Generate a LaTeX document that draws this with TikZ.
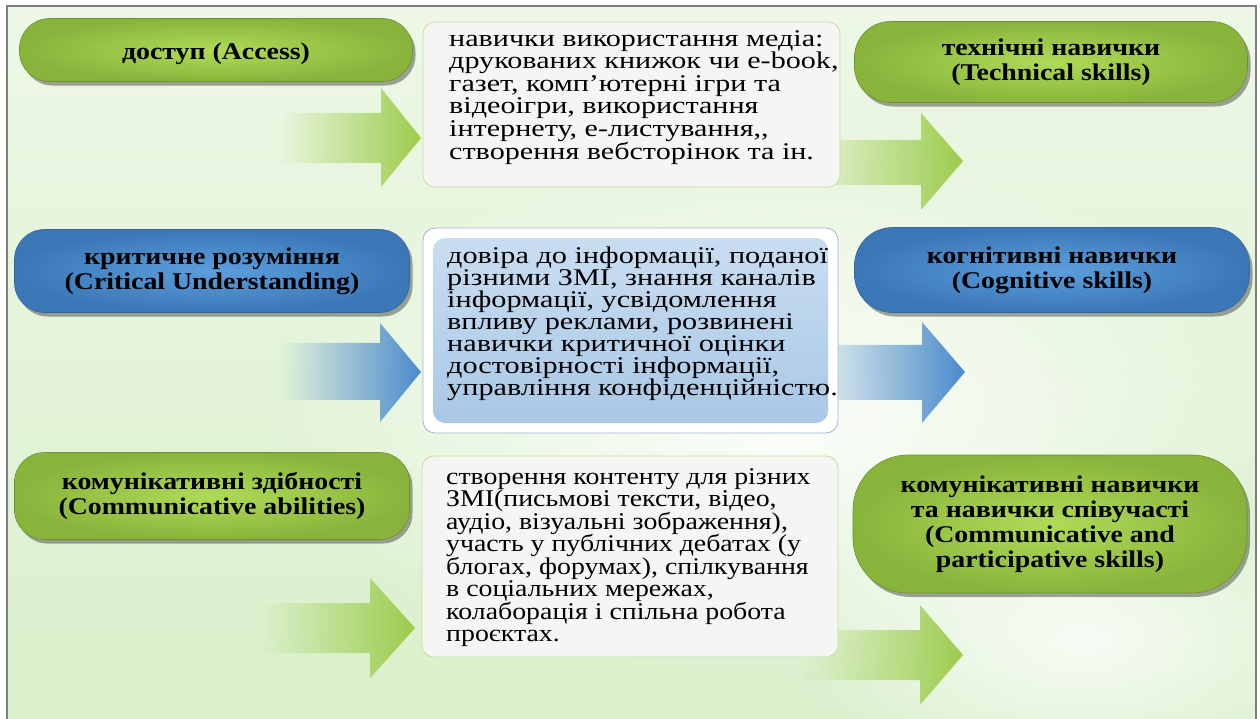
\documentclass[tikz,border=0pt]{standalone}
\usepackage{fontspec}
\setmainfont{Liberation Serif}
\newfontfamily\mediausefont[FakeStretch=1.255]{Liberation Serif}
\newfontfamily\trustfont[FakeStretch=1.26]{Liberation Serif}
\newfontfamily\contentfont[FakeStretch=1.16]{Liberation Serif}
\newfontfamily\pillfont[FakeStretch=1.16]{Liberation Serif}
\usetikzlibrary{positioning,shadows,fadings}

\definecolor{greenin}{HTML}{B0DB57}
\definecolor{greenout}{HTML}{88B43C}
\definecolor{bluein}{HTML}{5C9FDD}
\definecolor{blueout}{HTML}{3B77B7}
\definecolor{arrowgreen}{HTML}{9CCC4C}
\definecolor{arrowblue}{HTML}{4A8BCB}
\definecolor{boxfill}{HTML}{F5F6F4}
\definecolor{boxline}{HTML}{C5DE98}
\definecolor{boxblueline}{HTML}{9DB5CF}
\definecolor{boxbluetop}{HTML}{C9DDF1}
\definecolor{boxbluebot}{HTML}{A9C8E6}
\definecolor{bgtop}{HTML}{EEF7E6}
\definecolor{bgbot}{HTML}{D9F0CB}
\definecolor{framegray}{HTML}{7F7F7F}

\tikzfading[name=arrowfade, left color=transparent!100, right color=transparent!0]
\tikzfading[name=glowfade, inner color=transparent!0, outer color=transparent!100]

\tikzset{
  pill/.style={rounded corners=30pt, minimum width=393pt, inner sep=0pt, align=center,
    font=\pillfont\bfseries\fontsize{24}{25}\selectfont,
    drop shadow={shadow xshift=3pt, shadow yshift=-4pt, fill=black, opacity=0.35}},
  greenpill/.style={pill, inner color=greenin, outer color=greenout, draw=greenout!80!black, line width=0.6pt},
  bluepill/.style={pill, inner color=bluein, outer color=blueout, draw=blueout!85!black, line width=0.6pt},
  midbox/.style={rounded corners=12pt, fill=boxfill, draw=boxline, line width=0.8pt, inner sep=0pt},
  midtext/.style={anchor=north west, inner sep=0pt, align=left},
  greenarrow/.style={fill=arrowgreen, path fading=arrowfade},
  bluearrow/.style={fill=arrowblue, path fading=arrowfade}
}

\begin{document}
\begin{tikzpicture}[x=1pt, y=-1pt]
\useasboundingbox (0,0) rectangle (1260,718);
% background
\shade[top color=bgtop, bottom color=bgbot] (7,6) rectangle (1256,725);
\fill[white, path fading=glowfade, opacity=0.9] (780,420) ellipse (520 and 260);
\fill[white, path fading=glowfade, opacity=0.8] (1080,640) ellipse (300 and 160);

% arrows
\fill[greenarrow] (280,113) -- (381,113) -- (381,88) -- (421,138) -- (381,187) -- (381,163) -- (280,163) -- cycle; % arrow.1
\fill[greenarrow] (800,140) -- (921,140) -- (921,113) -- (963,161) -- (921,210) -- (921,185) -- (800,185) -- cycle; % arrow.2
\fill[bluearrow] (280,343) -- (380,343) -- (380,323) -- (421,372) -- (380,422) -- (380,400) -- (280,400) -- cycle; % arrow.3
\fill[bluearrow] (800,345) -- (922,345) -- (922,322) -- (965,372) -- (922,423) -- (922,400) -- (800,400) -- cycle; % arrow.4
\fill[greenarrow] (260,603) -- (370,603) -- (370,578) -- (415,628) -- (370,678) -- (370,653) -- (260,653) -- cycle; % arrow.5
\fill[greenarrow] (800,630) -- (920,630) -- (920,605) -- (963,655) -- (920,705) -- (920,680) -- (800,680) -- cycle; % arrow.6

% left column
\node[greenpill, minimum height=63pt, text height=24pt, text depth=5pt] (access) at (216,50) {доступ (Access)};
\node[bluepill, minimum width=395pt, minimum height=83pt] (critical) at (212,271) {критичне розуміння\\(Critical Understanding)};
\node[greenpill, minimum width=395pt, minimum height=87pt] (commab) at (212,496) {комунікативні здібності\\(Communicative abilities)};

% middle column
\node[midbox, minimum width=417pt, minimum height=165pt] (usebox) at (631.5,104.5) {};
\node[midtext, font=\mediausefont\fontsize{24}{22.6}\selectfont] (usetext) at (449,30) {навички використання медіа:\\друкованих книжок чи e-book,\\газет, комп’ютерні ігри та\\відеоігри, використання\\інтернету, е-листування,,\\створення вебсторінок та ін.};
\node[midbox, draw=boxblueline, fill=white, minimum width=415pt, minimum height=205pt] (trustbox) at (630.5,330.5) {};
\node[rounded corners=12pt, top color=boxbluetop, bottom color=boxbluebot, minimum width=395pt, minimum height=185pt, inner sep=0pt] (trustfill) at (630.5,330.5) {};
\node[midtext, font=\trustfont\fontsize{24}{22}\selectfont] (trusttext) at (447,247) {довіра до інформації, поданої\\різними ЗМІ, знання каналів\\інформації, усвідомлення\\впливу реклами, розвинені\\навички критичної оцінки\\достовірності інформації,\\управління конфіденційністю.};
\node[midbox, minimum width=416pt, minimum height=201pt] (mediabox) at (630,556.5) {};
\node[midtext, font=\contentfont\fontsize{24}{22.5}\selectfont] (mediatext) at (446,468) {створення контенту для різних\\ЗМІ(письмові тексти, відео,\\аудіо, візуальні зображення),\\участь у публічних дебатах (у\\блогах, форумах), спілкування\\в соціальних мережах,\\колаборація і спільна робота\\проєктах.};

% right column
\node[greenpill, minimum height=81pt, rounded corners=36pt] (technical) at (1051,62) {технічні навички\\(Technical skills)};
\node[bluepill, minimum width=395pt, minimum height=85pt, rounded corners=38pt] (cognitive) at (1052,270) {когнітивні навички\\(Cognitive skills)};
\node[greenpill, minimum width=394pt, minimum height=138pt, rounded corners=55pt] (commskill) at (1050,524) {комунікативні навички\\та навички співучасті\\(Communicative and\\participative skills)};

% frame
\draw[framegray, line width=1.5pt] (7,725) -- (7,6) -- (1256,6) -- (1256,725);
\end{tikzpicture}
\end{document}
